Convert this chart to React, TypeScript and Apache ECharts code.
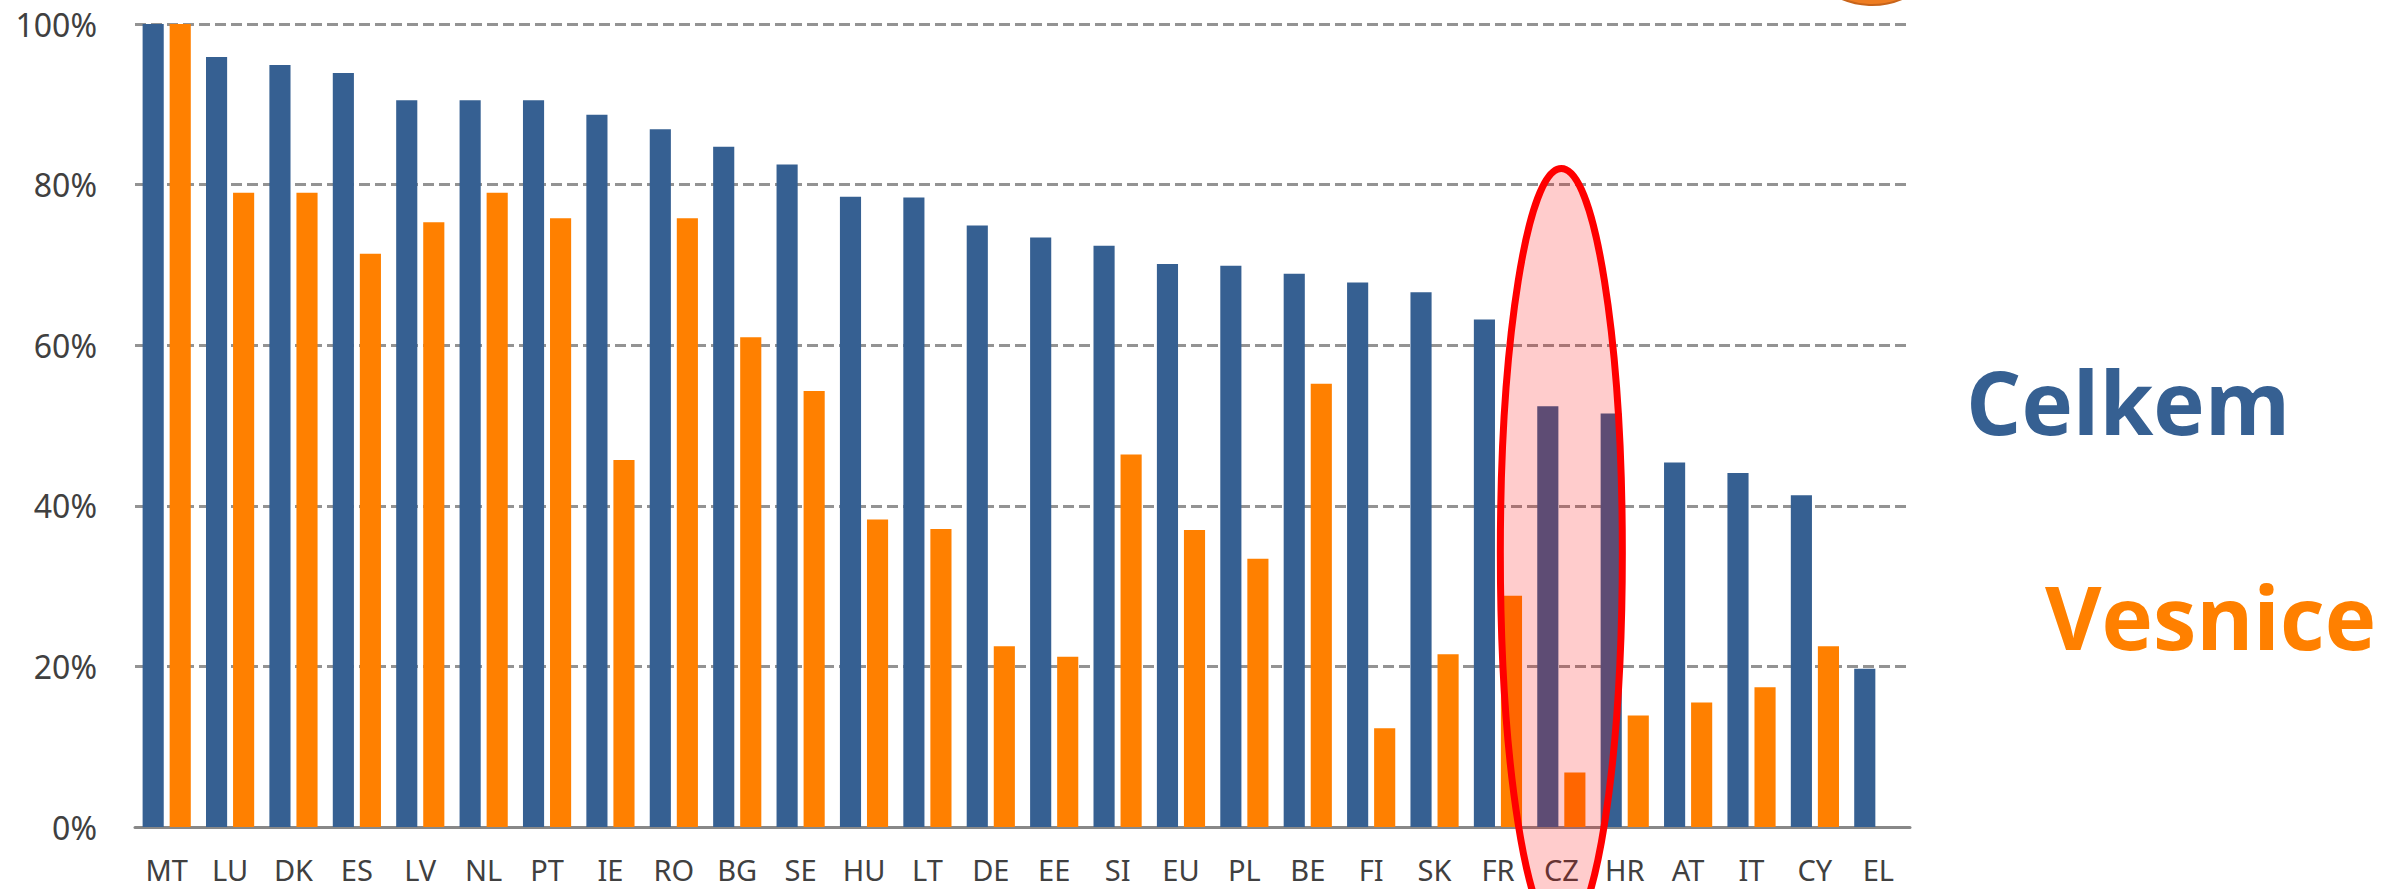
import React, { useEffect, useRef } from "react";
import * as echarts from "echarts";

const categories = ["MT", "LU", "DK", "ES", "LV", "NL", "PT", "IE", "RO", "BG", "SE", "HU", "LT", "DE", "EE", "SI", "EU", "PL", "BE", "FI", "SK", "FR", "CZ", "HR", "AT", "IT", "CY", "EL"];
const celkem = [100, 95.9, 94.9, 93.9, 90.5, 90.5, 90.5, 88.7, 86.9, 84.7, 82.5, 78.5, 78.4, 74.9, 73.4, 72.4, 70.1, 69.9, 68.9, 67.8, 66.6, 63.2, 52.4, 51.5, 45.4, 44.1, 41.3, 19.7];
const vesnice = [100, 79.0, 79.0, 71.4, 75.3, 79.0, 75.8, 45.7, 75.8, 61.0, 54.3, 38.3, 37.1, 22.5, 21.2, 46.4, 37.0, 33.4, 55.2, 12.3, 21.5, 28.8, 6.8, 13.9, 15.5, 17.4, 22.5, null];
const seriesNames = ["Celkem", "Vesnice"];
const highlighted = "CZ";

const BLUE = "#366092";
const ORANGE = "#ff8000";

export default function App() {
  const ref = useRef<HTMLDivElement>(null);
  useEffect(() => {
    document.body.style.margin = "0";
    const chart = echarts.init(ref.current!, null, { renderer: "svg" });
    const option: any = {
      animation: false,
      backgroundColor: "#ffffff",
      grid: { left: 135, right: 492, top: 24, bottom: 62, containLabel: false },
      xAxis: {
        type: "category",
        data: categories,
        axisTick: { show: false },
        axisLine: { show: true, lineStyle: { color: "#888888", width: 3 } },
        axisLabel: { color: "#404040", fontFamily: "Noto Sans", fontSize: 29, margin: 28, interval: 0 },
      },
      yAxis: {
        type: "value",
        min: 0,
        max: 100,
        interval: 20,
        axisLine: { show: false },
        axisTick: { show: false },
        axisLabel: { color: "#404040", fontFamily: "Noto Sans", fontSize: 32, margin: 38, formatter: "{value}%" },
        splitLine: { show: true, lineStyle: { color: "#939393", width: 3, type: [11, 5] } },
      },
      series: [
        { name: seriesNames[0], type: "bar", data: celkem, itemStyle: { color: BLUE }, barGap: "28%", barCategoryGap: "24%" },
        { name: seriesNames[1], type: "bar", data: vesnice, itemStyle: { color: ORANGE }, barGap: "28%", barCategoryGap: "24%" },
      ],
    };
    chart.setOption(option);

    const cx = chart.convertToPixel({ xAxisIndex: 0 }, highlighted) as number;
    const top = chart.convertToPixel({ yAxisIndex: 0 }, 82) as number;
    const ry = 384;
    chart.setOption({
      graphic: [
        {
          type: "circle",
          z: 50,
          shape: { cx: 1872, cy: -73, r: 78 },
          style: { fill: "#ee7d22", stroke: "#c8641a", lineWidth: 2 },
        },
        {
          type: "ellipse",
          z: 100,
          shape: { cx: cx, cy: top + ry, rx: 61, ry: ry },
          style: { fill: "rgba(255,0,0,0.2)", stroke: "#ff0000", lineWidth: 7 },
        },
        {
          type: "text",
          z: 100,
          x: 1966,
          y: 401,
          style: { text: seriesNames[0], fill: BLUE, font: "bold 87px 'Open Sans'", verticalAlign: "middle", align: "left" },
        },
        {
          type: "text",
          z: 100,
          x: 2045,
          y: 616,
          style: { text: seriesNames[1], fill: ORANGE, font: "bold 87px 'Open Sans'", verticalAlign: "middle", align: "left" },
        },
      ],
    });
    return () => chart.dispose();
  }, []);
  return <div ref={ref} style={{ position: "absolute", left: 0, top: 0, width: 2402, height: 889 }} />;
}
